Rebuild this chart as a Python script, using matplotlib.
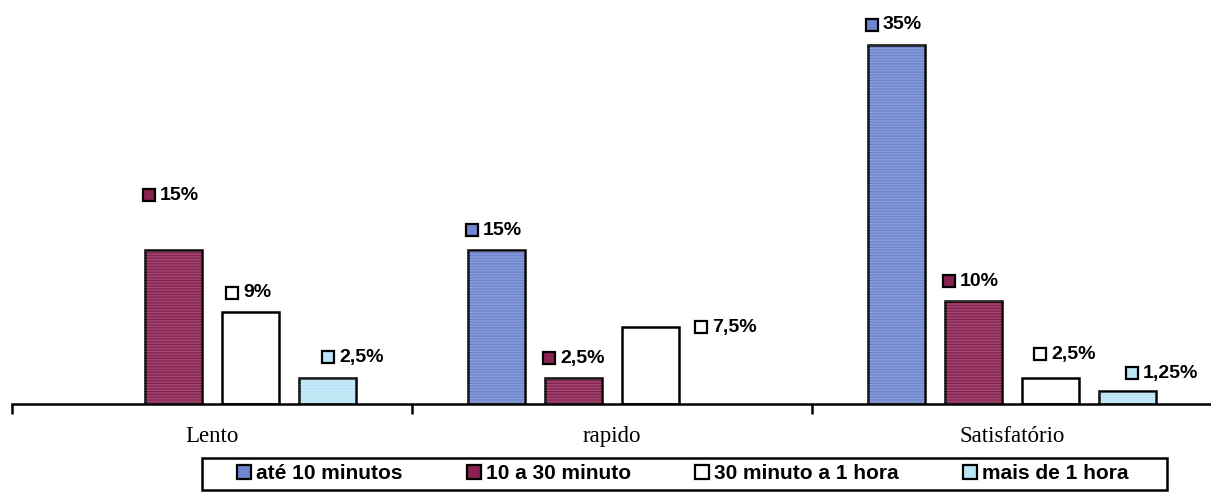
import numpy as np
import matplotlib
matplotlib.use("Agg")
import matplotlib.pyplot as plt
from matplotlib.lines import Line2D
from matplotlib.patches import Rectangle
from matplotlib.transforms import offset_copy

categories = ["Lento", "rapido", "Satisfatório"]
series = ["até 10 minutos", "10 a 30 minuto", "30 minuto a 1 hora", "mais de 1 hora"]
ate_10 = [0, 15, 35]
de_10_a_30 = [15, 2.5, 10]
de_30_a_60 = [9, 7.5, 2.5]
mais_1h = [2.5, 0, 1.25]
value_labels = {
    (0, 1): "15%", (0, 2): "9%", (0, 3): "2,5%",
    (1, 0): "15%", (1, 1): "2,5%", (1, 2): "7,5%",
    (2, 0): "35%", (2, 1): "10%", (2, 2): "2,5%", (2, 3): "1,25%",
}

colors = ["#6f85cf", "#8a2251", "#ffffff", "#b9e5f6"]
# label nudges in pixels (dx, dy) from the bar's top-left corner
nudges = {(0, 1): (-3, 55), (0, 2): (3, 19), (0, 3): (22, 21),
          (1, 2): (72, 0), (2, 2): (11, 24), (2, 3): (26, 18)}

plt.rcParams['font.family'] = ['Liberation Sans', 'DejaVu Sans']

fig = plt.figure(figsize=(12.11, 4.96), dpi=100)
ax = fig.add_axes([12 / 1211, 92 / 496, 1 - 12 / 1211, 1 - 92 / 496])

x = np.arange(len(categories))
width = 57 / 400
step = 77 / 400
data = [ate_10, de_10_a_30, de_30_a_60, mais_1h]

for i, vals in enumerate(data):
    pos = x + (i - 1.5) * step
    for j, v in enumerate(vals):
        if v == 0:
            continue
        ax.bar(pos[j], v, width, color=colors[i], edgecolor="black", linewidth=1.8, zorder=2)
        if colors[i] != "#ffffff":
            ax.bar(pos[j], v, width, fill=False, hatch="------",
                   edgecolor=(1, 1, 1, 0.18), linewidth=0, zorder=3)
        dx, dy = nudges.get((j, i), (-3, 20))
        left = pos[j] - width / 2
        tr_sq = offset_copy(ax.transData, fig=fig, x=dx + 7, y=dy, units="dots")
        tr_tx = offset_copy(ax.transData, fig=fig, x=dx + 18, y=dy, units="dots")
        ax.plot([left], [v], marker="s", markersize=8.8, markerfacecolor=colors[i],
                markeredgecolor="black", markeredgewidth=1.6, transform=tr_sq,
                clip_on=False, zorder=4)
        ax.text(left, v, value_labels[(j, i)], transform=tr_tx, ha="left", va="center",
                fontsize=14, fontweight="bold", clip_on=False)

ax.set_xlim(-0.5, 2.4975)
ax.set_ylim(0, 404 / 10.26)
ax.set_xticks(x)
ax.set_xticklabels(categories, family="Liberation Serif", fontsize=16.5)
ax.tick_params(axis="x", which="major", length=0, pad=16)
ax.set_xticks([-0.5, 0.5, 1.5], minor=True)
ax.tick_params(axis="x", which="minor", length=7, width=1.8, direction="out")
ax.set_yticks([])
for s in ["left", "right", "top"]:
    ax.spines[s].set_visible(False)
ax.spines["bottom"].set_linewidth(1.8)

handles = [Line2D([], [], linestyle="none", marker="s", markersize=9.5,
                  markerfacecolor=c, markeredgecolor="black", markeredgewidth=1.6)
           for c in colors]
leg = fig.legend(handles, series, loc="center", bbox_to_anchor=(0.5636, 0.0444), ncol=4,
                 prop={"weight": "bold", "size": 15}, frameon=False,
                 handlelength=0.75, handletextpad=0.2,
                 columnspacing=3.05, borderpad=0.2, borderaxespad=0)
# legend frame is wider than its content in the original
fig.patches.append(Rectangle((202 / 1211, 6 / 496), 965 / 1211, 32 / 496,
                             transform=fig.transFigure, fill=False,
                             edgecolor="black", linewidth=1.8))

fig.savefig("out.png", dpi=100, facecolor="white")
